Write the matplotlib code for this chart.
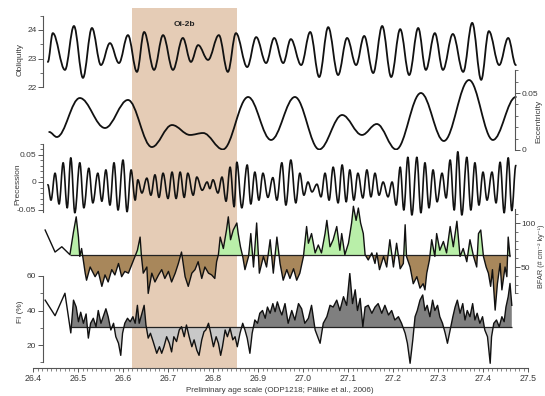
import numpy as np
import matplotlib
matplotlib.use('Agg')
import matplotlib.pyplot as plt
from matplotlib.path import Path
from matplotlib.patches import PathPatch
from matplotlib.ticker import MultipleLocator, FormatStrFormatter

plt.rcParams['font.family'] = ['Liberation Sans', 'DejaVu Sans']

# ---------------------------------------------------------------------------
# data (age in Ma)
# ---------------------------------------------------------------------------
# obliquity, turning points of the curve
obl_age = [26.433, 26.444, 26.471, 26.491, 26.511, 26.531, 26.551, 26.571, 26.591, 26.611,
           26.631, 26.647, 26.669, 26.689, 26.711, 26.733, 26.751, 26.767, 26.789, 26.813,
           26.833, 26.851, 26.876, 26.896, 26.918, 26.936, 26.956, 26.973, 26.996, 27.016,
           27.036, 27.056, 27.078, 27.098, 27.118, 27.136, 27.156, 27.176, 27.196, 27.216,
           27.236, 27.256, 27.273, 27.293, 27.311, 27.333, 27.356, 27.376, 27.396, 27.413,
           27.436, 27.456, 27.473]
obliquity = [22.88, 23.89, 22.60, 24.14, 22.32, 24.07, 22.77, 23.54, 22.84, 23.82,
             22.53, 23.93, 22.60, 23.82, 22.60, 23.72, 22.88, 23.47, 22.95, 23.82,
             22.53, 23.89, 22.70, 23.75, 22.84, 23.72, 22.84, 23.68, 22.77, 23.93,
             22.35, 24.10, 22.42, 23.72, 22.77, 23.79, 22.49, 24.14, 22.35, 24.03,
             22.42, 24.07, 22.60, 23.89, 22.60, 23.86, 22.53, 24.25, 22.25, 23.96,
             22.77, 23.72, 22.77]

# eccentricity, turning points
ecc_age = [26.436, 26.453, 26.504, 26.560, 26.611, 26.664, 26.709, 26.749, 26.778, 26.822,
           26.878, 26.929, 26.982, 27.036, 27.087, 27.131, 27.164, 27.207, 27.262, 27.313,
           27.369, 27.422, 27.473]
eccentricity = [0.0158, 0.0114, 0.0456, 0.0193, 0.0439, 0.0026, 0.0219, 0.0132, 0.0149, 0.0005,
                0.0465, 0.0088, 0.0465, 0.0005, 0.0307, 0.0132, 0.0228, 0.0005, 0.0500, 0.0079,
                0.0614, 0.0088, 0.0465]

# precession, turning points
prec_age = [26.433, 26.440, 26.449, 26.458, 26.467, 26.476, 26.484, 26.493, 26.504, 26.513,
            26.524, 26.533, 26.544, 26.553, 26.562, 26.571, 26.580, 26.589, 26.600, 26.609,
            26.618, 26.627, 26.633, 26.642, 26.653, 26.662, 26.671, 26.680, 26.689, 26.700,
            26.709, 26.718, 26.727, 26.736, 26.744, 26.756, 26.764, 26.776, 26.787, 26.793,
            26.800, 26.811, 26.820, 26.829, 26.838, 26.847, 26.853, 26.864, 26.876, 26.884,
            26.893, 26.902, 26.911, 26.922, 26.933, 26.942, 26.953, 26.962, 26.973, 26.984,
            26.993, 27.002, 27.011, 27.020, 27.031, 27.040, 27.049, 27.058, 27.067, 27.078,
            27.087, 27.096, 27.104, 27.113, 27.122, 27.133, 27.142, 27.151, 27.160, 27.169,
            27.178, 27.189, 27.198, 27.207, 27.216, 27.224, 27.233, 27.242, 27.253, 27.262,
            27.271, 27.280, 27.289, 27.298, 27.309, 27.318, 27.327, 27.336, 27.344, 27.353,
            27.364, 27.373, 27.382, 27.391, 27.400, 27.409, 27.420, 27.429, 27.438, 27.447,
            27.456, 27.464, 27.473]
precession = [-0.005, -0.033, 0.016, -0.040, 0.035, -0.047, 0.044, -0.056, 0.035, -0.047,
              0.025, -0.038, 0.016, -0.035, 0.022, -0.042, 0.035, -0.051, 0.040, -0.054,
              0.022, -0.033, 0.004, -0.020, 0.007, -0.024, 0.013, -0.028, 0.016, -0.030,
              0.018, -0.030, 0.018, -0.028, 0.016, -0.024, 0.009, -0.015, 0.000, -0.012,
              0.004, -0.020, 0.009, -0.035, 0.027, -0.045, 0.036, -0.047, 0.031, -0.040,
              0.018, -0.033, 0.016, -0.028, 0.008, -0.033, 0.035, -0.042, 0.040, -0.038,
              0.016, -0.024, 0.000, -0.018, -0.004, -0.027, 0.016, -0.033, 0.027, -0.038,
              0.031, -0.036, 0.022, -0.033, 0.016, -0.029, 0.022, -0.027, 0.016, -0.024,
              0.000, -0.027, 0.000, -0.042, 0.027, -0.051, 0.045, -0.060, 0.045, -0.056,
              0.035, -0.047, 0.022, -0.036, 0.016, -0.029, 0.040, -0.051, 0.055, -0.060,
              0.045, -0.051, 0.035, -0.042, 0.018, -0.033, 0.018, -0.038, 0.036, -0.056,
              0.044, -0.052, 0.030]

# benthic foraminifera accumulation rate
bfar_age = [26.427, 26.449, 26.464, 26.482,
            26.490, 26.496, 26.501, 26.504, 26.508, 26.516, 26.519, 26.527, 26.538, 26.545,
            26.553, 26.560, 26.567, 26.575, 26.582, 26.590, 26.597, 26.604, 26.612, 26.619,
            26.627, 26.632, 26.638, 26.641, 26.645, 26.653, 26.656, 26.664, 26.671, 26.679,
            26.686, 26.693, 26.701, 26.708, 26.716, 26.723, 26.730, 26.738, 26.745, 26.753,
            26.760, 26.767, 26.775, 26.782, 26.790, 26.797, 26.804, 26.808, 26.812, 26.816,
            26.823, 26.830, 26.834, 26.839, 26.845, 26.853, 26.856, 26.861, 26.866, 26.871,
            26.879, 26.884, 26.890, 26.897, 26.903, 26.912, 26.919, 26.927, 26.934, 26.942,
            26.949, 26.956, 26.964, 26.971, 26.979, 26.986, 26.993, 27.001, 27.008, 27.012,
            27.019, 27.027, 27.034, 27.041, 27.049, 27.053, 27.060, 27.067, 27.075, 27.082,
            27.086, 27.093, 27.101, 27.108, 27.112, 27.118, 27.123, 27.128, 27.134, 27.138,
            27.145, 27.153, 27.160, 27.164, 27.170, 27.179, 27.186, 27.193, 27.201, 27.208,
            27.216, 27.223, 27.227, 27.230, 27.238, 27.245, 27.253, 27.260, 27.267, 27.271,
            27.275, 27.281, 27.286, 27.293, 27.297, 27.304, 27.312, 27.319, 27.327, 27.334,
            27.342, 27.349, 27.356, 27.364, 27.371, 27.379, 27.386, 27.390, 27.395, 27.401,
            27.407, 27.412, 27.417, 27.421, 27.427, 27.432, 27.438, 27.442, 27.449, 27.453,
            27.456, 27.460]
bfar = [92, 67, 73, 64,
        90, 107, 84, 62, 71, 43, 35, 50, 39, 45,
        28, 41, 33, 47, 41, 54, 39, 45, 43, 52,
        62, 69, 84, 62, 43, 50, 20, 43, 33, 41,
        47, 37, 45, 33, 43, 54, 67, 39, 28, 43,
        47, 56, 37, 50, 43, 41, 37, 56, 64, 84,
        71, 92, 107, 81, 92, 100, 88, 73, 62, 47,
        62, 88, 50, 100, 43, 62, 50, 81, 43, 84,
        54, 35, 47, 37, 48, 35, 43, 62, 96, 77,
        88, 66, 75, 66, 88, 103, 73, 81, 96, 69,
        88, 64, 77, 100, 119, 103, 117, 100, 88, 64,
        58, 66, 54, 66, 47, 62, 50, 81, 50, 77,
        48, 54, 98, 62, 50, 31, 39, 26, 31, 24,
        43, 58, 81, 62, 88, 69, 79, 66, 96, 73,
        102, 62, 71, 56, 81, 62, 50, 88, 92, 62,
        50, 43, 28, 47, 1, 31, 54, 24, 50, 39,
        84, 62]
bfar_mean = 63.6

# fragmentation index
fi_age = [26.427, 26.449, 26.471, 26.484,
          26.490, 26.496, 26.501, 26.506, 26.512, 26.518, 26.523, 26.528, 26.534, 26.540,
          26.545, 26.551, 26.556, 26.562, 26.567, 26.573, 26.579, 26.584, 26.590, 26.595,
          26.599, 26.604, 26.610, 26.616, 26.622, 26.627, 26.632, 26.636, 26.641, 26.647,
          26.651, 26.656, 26.661, 26.667, 26.675, 26.681, 26.686, 26.691, 26.697, 26.703,
          26.708, 26.713, 26.719, 26.725, 26.730, 26.736, 26.741, 26.747, 26.753, 26.758,
          26.764, 26.769, 26.775, 26.780, 26.784, 26.790, 26.795, 26.801, 26.807, 26.812,
          26.817, 26.821, 26.827, 26.832, 26.838, 26.844, 26.849, 26.854, 26.860, 26.866,
          26.871, 26.876, 26.882, 26.887, 26.893, 26.899, 26.904, 26.910, 26.916, 26.921,
          26.927, 26.933, 26.938, 26.943, 26.949, 26.953, 26.960, 26.967, 26.975, 26.982,
          26.990, 26.997, 27.004, 27.012, 27.019, 27.027, 27.038, 27.045, 27.053, 27.060,
          27.067, 27.075, 27.082, 27.090, 27.097, 27.104, 27.110, 27.116, 27.121, 27.127,
          27.133, 27.138, 27.145, 27.153, 27.160, 27.167, 27.175, 27.182, 27.190, 27.197,
          27.204, 27.212, 27.219, 27.227, 27.232, 27.238, 27.244, 27.249, 27.254, 27.260,
          27.266, 27.271, 27.276, 27.282, 27.288, 27.293, 27.299, 27.304, 27.310, 27.316,
          27.321, 27.327, 27.333, 27.338, 27.343, 27.349, 27.355, 27.360, 27.365, 27.371,
          27.377, 27.382, 27.387, 27.393, 27.399, 27.404, 27.410, 27.416, 27.419, 27.424,
          27.430, 27.436, 27.442, 27.447, 27.451, 27.456, 27.460, 27.464]
fi = [46, 37, 50, 27,
      46, 42, 33.5, 39, 32.6, 38, 24, 32.6, 35.5, 30.6,
      40, 32.6, 36.4, 41, 36.4, 28.7, 32.6, 24.8, 21, 14,
      26.8, 32.6, 35.5, 33.5, 36.4, 32.6, 43, 32.6, 37.4, 43,
      31.6, 24, 26.8, 22, 15.2, 19, 15.2, 19, 24.8, 21,
      16, 24.8, 22, 28.7, 30.6, 24.8, 31.6, 24.8, 19, 23,
      17, 14, 23, 27.7, 28.7, 32.6, 26.8, 19, 24.8, 21,
      14, 19, 28.7, 24.8, 29.7, 23, 24.8, 19, 26.8, 32.6,
      28.7, 24, 15.2, 26.8, 34.5, 32.6, 38.4, 40, 35.5, 42,
      38.4, 44, 39.3, 45, 40, 37.4, 44, 32.6, 40, 34.5,
      44, 41, 32.6, 35.5, 43, 28.7, 21, 32.6, 36.4, 43,
      42, 46, 40, 48, 43, 61.5, 44, 52, 40, 47,
      30.6, 42, 43, 38.4, 42, 44, 38.4, 43, 37.4, 40,
      34.5, 36.4, 32.6, 26.8, 21, 9.4, 23, 36.4, 40, 46,
      49, 40, 43, 36.4, 46, 40, 43, 36.4, 32.6, 26.8,
      21, 28.7, 36.4, 42, 46, 38.4, 44, 34.5, 40, 36.4,
      44, 34.5, 38.4, 32.6, 36.4, 28.7, 24.8, 9.4, 24.8, 32.6,
      34.5, 30.6, 36.4, 33.5, 42, 48, 55.7, 43]
fi_mean = 30.4

event_start, event_end = 26.62, 26.853
event_label = 'Oi-2b'

# ---------------------------------------------------------------------------
# layout helpers (pixel geometry of the 545x396 original)
# ---------------------------------------------------------------------------
W, H = 545, 396
X0, X1 = 33, 528
XLIM = (26.4, 27.5)
LEFT_SP, RIGHT_SP = 26.422, 27.471
TXT = '#3a3a3a'
SPC = '#555555'
FS = 6

fig = plt.figure(figsize=(W / 100, H / 100), dpi=100)
fig.patch.set_facecolor('white')


def panel(top_px, bot_px, ylim):
    ax = fig.add_axes([X0 / W, 1 - bot_px / H, (X1 - X0) / W, (bot_px - top_px) / H])
    ax.set_xlim(*XLIM)
    ax.set_ylim(*ylim)
    ax.patch.set_visible(False)
    for s in ax.spines.values():
        s.set_visible(False)
    ax.tick_params(axis='x', bottom=False, labelbottom=False)
    return ax


def yspine(ax, side, lo, hi, major, labels, minor, pad=1.2):
    sp = ax.spines[side]
    sp.set_visible(True)
    sp.set_position(('data', LEFT_SP if side == 'left' else RIGHT_SP))
    sp.set_bounds(lo, hi)
    sp.set_color(SPC)
    sp.set_linewidth(0.8)
    ax.yaxis.set_ticks_position(side)
    ax.set_yticks(major, labels)
    ax.set_yticks(minor, minor=True)
    ax.tick_params(axis='y', which='both', direction='out', colors=SPC,
                   labelcolor=TXT, labelsize=FS, pad=pad)
    ax.tick_params(axis='y', which='major', length=3.5, width=0.7)
    ax.tick_params(axis='y', which='minor', length=2, width=0.6)


def smooth_curve(ax, xs, ys, k=0.364, lw=1.3):
    # cubic segments between turning points, flat tangents at each turning point
    verts = [(xs[0], ys[0])]
    codes = [Path.MOVETO]
    for i in range(len(xs) - 1):
        dx = xs[i + 1] - xs[i]
        verts += [(xs[i] + k * dx, ys[i]), (xs[i + 1] - k * dx, ys[i + 1]), (xs[i + 1], ys[i + 1])]
        codes += [Path.CURVE4] * 3
    ax.add_patch(PathPatch(Path(verts, codes), fill=False, lw=lw, ec='#111111',
                           joinstyle='round', capstyle='round'))


def side_label(x_px, y_px, text, size=FS):
    fig.text(x_px / W, 1 - y_px / H, text, rotation=90, ha='center', va='center',
             fontsize=size, color=TXT)


# ---------------------------------------------------------------------------
# background: event band + age axis
# ---------------------------------------------------------------------------
axbg = fig.add_axes([X0 / W, 1 - 368 / H, (X1 - X0) / W, (368 - 8) / H])
axbg.set_xlim(*XLIM)
axbg.set_ylim(0, 1)
axbg.axvspan(event_start, event_end, color='#e5ccb6', lw=0)
axbg.text((event_start + event_end) / 2, 0.955, event_label, ha='center', va='center',
          fontsize=FS, fontweight='bold', color='#222222')
for name in ['left', 'right', 'top']:
    axbg.spines[name].set_visible(False)
axbg.spines['bottom'].set_color(SPC)
axbg.spines['bottom'].set_linewidth(0.8)
axbg.set_yticks([])
axbg.xaxis.set_major_locator(MultipleLocator(0.1))
axbg.xaxis.set_minor_locator(MultipleLocator(0.01))
axbg.xaxis.set_major_formatter(FormatStrFormatter('%.1f'))
axbg.tick_params(axis='x', which='both', direction='out', colors=SPC, labelcolor=TXT,
                 labelsize=FS + 0.3, pad=1.2)
axbg.tick_params(axis='x', which='major', length=3.2, width=0.7)
axbg.tick_params(axis='x', which='minor', length=1.8, width=0.5)
fig.text(280 / W, 1 - 390 / H, 'Preliminary age scale (ODP1218; Pälike et al., 2006)',
         ha='center', va='center', fontsize=FS - 0.2, color=TXT)

# ---------------------------------------------------------------------------
# obliquity
# ---------------------------------------------------------------------------
ax1 = panel(15.75, 87, (22, 24.5))
smooth_curve(ax1, obl_age, obliquity)
yspine(ax1, 'left', 22, 24.5, [22, 23, 24], ['22', '23', '24'], [22.5, 23.5, 24.5])
side_label(20, 60, 'Obliquity')

# eccentricity
ax2 = panel(70.2, 150, (0, 0.07))
smooth_curve(ax2, ecc_age, eccentricity)
yspine(ax2, 'right', 0, 0.07, [0, 0.05], ['0', '0.05'],
       [0.01, 0.02, 0.03, 0.04, 0.06, 0.07])
side_label(539, 121, 'Eccentricity')

# precession
ax3 = panel(143.5, 217.75, (-0.065, 0.07))
smooth_curve(ax3, prec_age, precession, lw=1.2)
yspine(ax3, 'left', -0.055, 0.07, [-0.05, 0, 0.05], ['-0.05', '0', '0.05'],
       [-0.04, -0.03, -0.02, -0.01, 0.01, 0.02, 0.03, 0.04, 0.06, 0.07])
side_label(18, 184, 'Precession')

# BFAR
ax4 = panel(205.4, 311, (0, 120))
ba = np.array(bfar_age)
bv = np.array(bfar, dtype=float)
s = 3
ax4.fill_between(ba[s:], bv[s:], bfar_mean, where=bv[s:] >= bfar_mean, interpolate=True,
                 color='#b9efa9', lw=0)
ax4.fill_between(ba[s:], bv[s:], bfar_mean, where=bv[s:] < bfar_mean, interpolate=True,
                 color='#a8875b', lw=0)
ax4.hlines(bfar_mean, ba[s], ba[-1], color='#222222', lw=0.9)
ax4.plot(ba, bv, color='#111111', lw=1.0)
yspine(ax4, 'right', 20, 116, [50, 100], ['50', '100'], [20, 30, 40, 60, 70, 80, 90, 110],
       pad=0.8)
side_label(541.5, 256, 'BFAR (# cm⁻² ky⁻¹)', size=5.2)

# FI
ax5 = panel(272.55, 365.7, (8, 62))
fa = np.array(fi_age)
fv = np.array(fi, dtype=float)
ax5.fill_between(fa[s:], fv[s:], fi_mean, where=fv[s:] >= fi_mean, interpolate=True,
                 color='#7f7f7f', lw=0)
ax5.fill_between(fa[s:], fv[s:], fi_mean, where=fv[s:] < fi_mean, interpolate=True,
                 color='#c8c8c8', lw=0)
ax5.hlines(fi_mean, fa[s], fa[-1], color='#222222', lw=0.9)
ax5.plot(fa, fv, color='#111111', lw=1.0)
yspine(ax5, 'left', 10, 60, [20, 40, 60], ['20', '40', '60'], [10, 30, 50])
side_label(21, 312, 'FI (%)')

fig.savefig('out.png', dpi=100)
